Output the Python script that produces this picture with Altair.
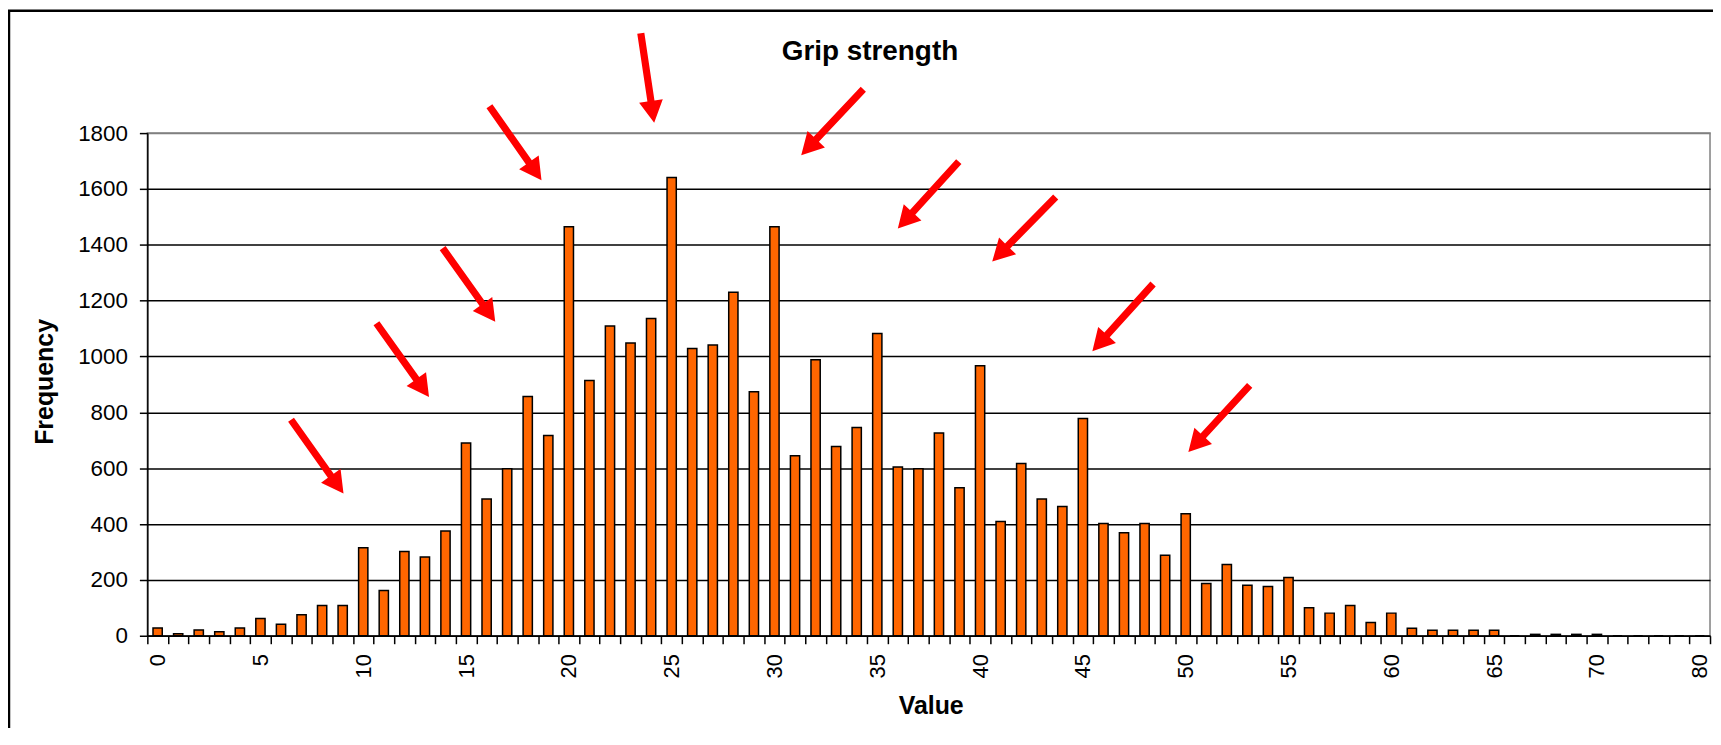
import altair as alt
import pandas as pd

# ---------------- data ----------------
categories = [str(i) for i in range(75)] + ["80"]
frequencies = [
    28, 7, 21, 14, 28, 62, 41, 75, 108, 108,
    315, 162, 302, 282, 375, 690, 490, 598, 857, 717,
    1465, 914, 1109, 1048, 1136, 1641, 1029, 1041, 1230, 874,
    1465, 645, 988, 678, 746, 1082, 604, 598, 726, 530,
    967, 409, 617, 490, 463, 778, 402, 369, 402, 288,
    437, 187, 255, 181, 176, 209, 100, 81, 108, 47,
    81, 27, 20, 20, 20, 20, 0, 5, 5, 5,
    5, 0, 0, 0, 0, 0,
]
y_ticks = [0, 200, 400, 600, 800, 1000, 1200, 1400, 1600, 1800]

# red annotation arrows: tip position (category units, frequency units) and direction
arrow_x = [9.54, 13.70, 16.92, 19.17, 24.65, 31.80, 36.50, 41.09, 45.96, 50.63]
arrow_y = [509, 855, 1124, 1631, 1837, 1721, 1458, 1340, 1019, 658]
arrow_angle = [144.6, 144.5, 144.5, 144.9, 171.5, 223.3, 222.3, 224.5, 222.1, 222.6]

title_text = "Grip strength"

FONT = "Liberation Sans"
W, H = 1570, 505

bars_df = pd.DataFrame({"value": categories, "freq": frequencies})
arrows_df = pd.DataFrame({"ax": arrow_x, "freq": arrow_y, "angle": arrow_angle})
one_df = pd.DataFrame({"a": [0]})

y_enc_scale = alt.Scale(domain=[0, 1800], nice=False, zero=True)
y_axis = alt.Axis(
    title="Frequency",
    values=y_ticks,
    format="d",
    grid=True,
    gridColor={"condition": {"test": "datum.value === 1800", "value": "#808080"}, "value": "#000000"},
    gridWidth=1.5,
    labelPadding=12,
    labelFontSize=22.5,
    titleX=-95,
    titleY=H / 2 - 3,
    titleAngle=270,
    titleBaseline="alphabetic",
    titleAlign="center",
)

bars = alt.Chart(bars_df).mark_bar(
    width=alt.RelativeBandSize(0.45),
    fill="#FF6600",
    stroke="#000000",
    strokeWidth=1.5,
).encode(
    x=alt.X(
        "value:O",
        sort=categories,
        scale=alt.Scale(paddingInner=0, paddingOuter=0),
        axis=alt.Axis(
            title="Value",
            tickBand="extent",
            labelExpr="toNumber(datum.value) % 5 == 0 ? datum.label : ''",
            labelAngle=270,
            labelOverlap=False,
            labelPadding=10,
            titleY=78,
            titleX=W / 2 + 2,
            titleBaseline="alphabetic",
            grid=False,
        ),
    ),
    y=alt.Y("freq:Q", scale=y_enc_scale, axis=y_axis),
)

ARROW_PATH = (
    "M0,0 L0.264,0.484 L0.079,0.484 L0.079,2 L-0.079,2 "
    "L-0.079,0.484 L-0.264,0.484 Z"
)

arrows = alt.Chart(arrows_df).mark_point(
    shape=ARROW_PATH,
    size=8281,
    filled=True,
    fill="#FF0000",
    strokeWidth=0,
    opacity=1,
    clip=False,
).encode(
    x=alt.X("ax:Q", scale=alt.Scale(domain=[0, len(categories)], nice=False, zero=False), axis=None),
    y=alt.Y("freq:Q", scale=y_enc_scale, axis=y_axis),
    angle=alt.Angle("angle:Q", scale=None),
)

border = alt.Chart(one_df).mark_rect(
    fill="transparent", stroke="#000000", strokeWidth=2.5, clip=False
).encode(
    x=alt.value(-139), x2=alt.value(1700), y=alt.value(-123), y2=alt.value(720)
)

title = alt.Chart(one_df).mark_text(
    text=title_text,
    font=FONT,
    fontSize=28,
    fontWeight="bold",
    color="#000000",
    align="center",
    baseline="alphabetic",
).encode(x=alt.value(726), y=alt.value(-73))

chart = (
    alt.layer(border, bars, arrows, title)
    .resolve_scale(x="independent")
    .properties(
        width=W,
        height=H,
        autosize=alt.AutoSizeParams(type="none"),
        padding={"left": 140, "top": 124, "right": 3, "bottom": 91},
        background="#FFFFFF",
    )
    .configure_view(stroke="#808080", strokeWidth=1.5)
    .configure_axis(
        labelFont=FONT,
        labelFontSize=22,
        labelColor="#000000",
        titleFont=FONT,
        titleFontSize=25,
        titleFontWeight="bold",
        titleColor="#000000",
        domainColor="#000000",
        domainWidth=1.5,
        tickColor="#000000",
        tickWidth=1.5,
        tickSize=8,
    )
)

chart.save("out.html", embed_options={"renderer": "svg", "actions": False})
